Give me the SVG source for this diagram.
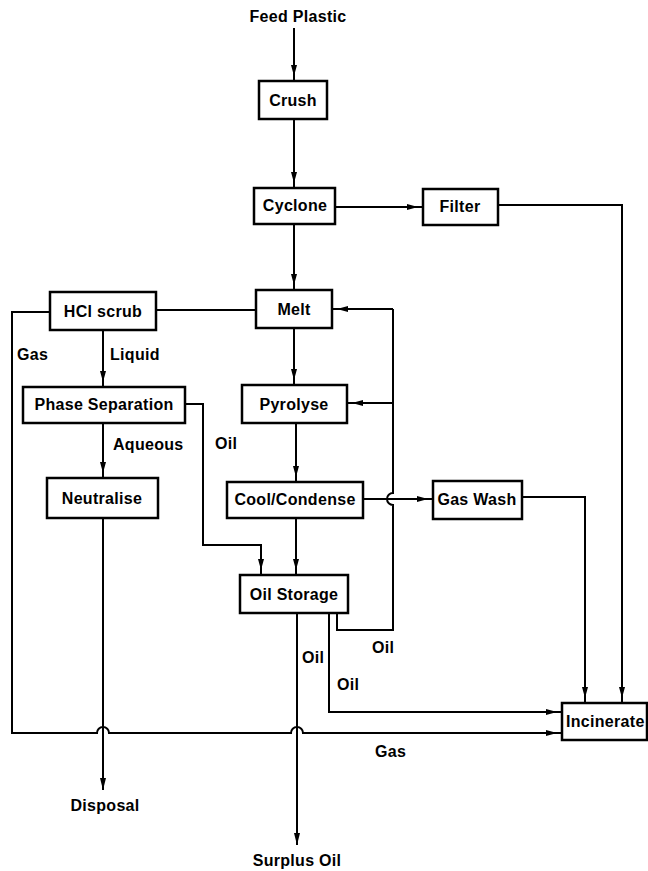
<svg xmlns="http://www.w3.org/2000/svg" width="648" height="871" viewBox="0 0 648 871">
  <style>
    .box { fill: #fff; stroke: #000; stroke-width: 2.5; }
    .lbl { font-family: "Liberation Sans", Arial, sans-serif; font-weight: bold; font-size: 16px; fill: #000; letter-spacing: 0.3px; }
    .mid { text-anchor: middle; }
    .ln { fill: none; stroke: #000; stroke-width: 2; }
    .arw { marker-end: url(#head); }
    .arwEnd { marker-end: url(#tip); }
  </style>
  <defs>
    <!-- arrowhead sitting a few pixels short of the line end -->
    <marker id="head" markerUnits="userSpaceOnUse" markerWidth="20" markerHeight="10" viewBox="0 0 20 10" refX="16" refY="5" orient="auto" overflow="visible">
      <path d="M0,2 L11,5 L0,8 Z" fill="#000"/>
    </marker>
    <!-- arrowhead with its tip on the line end -->
    <marker id="tip" markerUnits="userSpaceOnUse" markerWidth="14" markerHeight="10" viewBox="0 0 14 10" refX="12" refY="5" orient="auto" overflow="visible">
      <path d="M0,2 L12,5 L0,8 Z" fill="#000"/>
    </marker>
  </defs>

  <rect width="648" height="871" fill="#fff"/>

  <!-- connectors -->
  <g id="connectors">
    <path class="ln arw" d="M294,28 L294,81"/>
    <path class="ln arw" d="M294,119 L294,188"/>
    <path class="ln arw" d="M335,207 L423,207"/>
    <path class="ln arw" d="M498,205 L622,205 L622,703"/>
    <path class="ln arw" d="M294,224 L294,290"/>
    <path class="ln" d="M256,310 L156,310"/>
    <path class="ln arw" d="M50,312 L12,312 L12,733 L97,733 A6,6 0 0 1 109,733 L291,733 A6,6 0 0 1 303,733 L562,733"/>
    <path class="ln arw" d="M103,330 L103,387"/>
    <path class="ln arw" d="M185,404 L203,404 L203,545 L261,545 L261,575"/>
    <path class="ln arw" d="M103,423 L103,478"/>
    <path class="ln arwEnd" d="M103,518 L103,790"/>
    <path class="ln arw" d="M294,328 L294,385"/>
    <path class="ln arw" d="M296,423 L296,482"/>
    <path class="ln arw" d="M296,518 L296,575"/>
    <path class="ln arw" d="M363,499 L433,499"/>
    <path class="ln arw" d="M522,497 L585,497 L585,703"/>
    <path class="ln arwEnd" d="M297,613 L297,845"/>
    <path class="ln arw" d="M329,613 L329,712 L562,712"/>
    <path class="ln" d="M337,613 L337,630 L393,630 L393,505 A6,6 0 0 1 393,493 L393,309"/>
    <path class="ln arw" d="M393,309 L332,309"/>
    <path class="ln arw" d="M393,403 L347,403"/>

    <text class="lbl" x="17" y="360">Gas</text>
    <text class="lbl" x="110" y="360">Liquid</text>
    <text class="lbl" x="113" y="450">Aqueous</text>
    <text class="lbl" x="215" y="449">Oil</text>
    <text class="lbl" x="302" y="663">Oil</text>
    <text class="lbl" x="337" y="690">Oil</text>
    <text class="lbl" x="372" y="653">Oil</text>
    <text class="lbl" x="375" y="757">Gas</text>
  </g>

  <!-- terminals -->
  <g id="feed"><text class="lbl mid" x="298" y="22">Feed Plastic</text></g>
  <g id="disposal"><text class="lbl mid" x="105" y="811">Disposal</text></g>
  <g id="surplus"><text class="lbl mid" x="297" y="866">Surplus Oil</text></g>

  <!-- process nodes -->
  <g id="crush"><rect class="box" x="259" y="81" width="68" height="38"/><text class="lbl mid" x="293" y="106">Crush</text></g>
  <g id="cyclone"><rect class="box" x="254" y="188" width="81" height="36"/><text class="lbl mid" x="295" y="211">Cyclone</text></g>
  <g id="filter"><rect class="box" x="423" y="189" width="75" height="36"/><text class="lbl mid" x="460" y="212">Filter</text></g>
  <g id="hcl"><rect class="box" x="50" y="292" width="106" height="38"/><text class="lbl mid" x="103" y="317">HCl scrub</text></g>
  <g id="melt"><rect class="box" x="256" y="290" width="76" height="38"/><text class="lbl mid" x="294" y="315">Melt</text></g>
  <g id="phase"><rect class="box" x="23" y="387" width="162" height="36"/><text class="lbl mid" x="104" y="410">Phase Separation</text></g>
  <g id="pyrolyse"><rect class="box" x="242" y="385" width="105" height="38"/><text class="lbl mid" x="294" y="410">Pyrolyse</text></g>
  <g id="neutralise"><rect class="box" x="47" y="478" width="111" height="40"/><text class="lbl mid" x="102" y="504">Neutralise</text></g>
  <g id="cool"><rect class="box" x="227" y="482" width="136" height="36"/><text class="lbl mid" x="295" y="505">Cool/Condense</text></g>
  <g id="gaswash"><rect class="box" x="433" y="481" width="89" height="38"/><text class="lbl mid" x="477" y="505">Gas Wash</text></g>
  <g id="storage"><rect class="box" x="240" y="575" width="108" height="38"/><text class="lbl mid" x="294" y="600">Oil Storage</text></g>
  <g id="incinerate"><rect class="box" x="562" y="703" width="85" height="37"/><text class="lbl" x="566" y="727">Incinerate</text></g>
</svg>
